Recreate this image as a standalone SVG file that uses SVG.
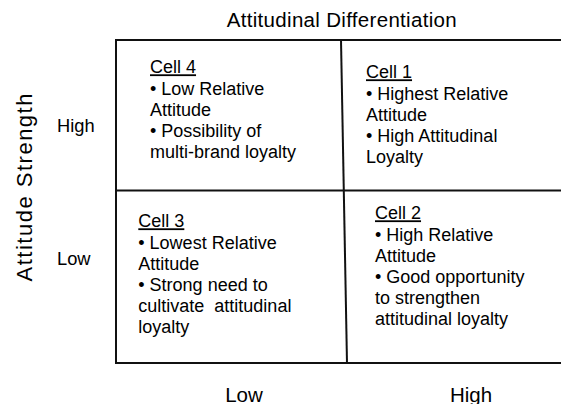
<svg xmlns="http://www.w3.org/2000/svg" width="561" height="404" viewBox="0 0 561 404">
<style>
text{font-family:"Liberation Sans",Arial,sans-serif;fill:#000}
.cell{font-size:18px}
.u{text-decoration:underline}
.ln{stroke:#111;stroke-width:2;fill:none}
.ax{font-size:20.5px}
.lv{font-size:18.3px}
</style>
<rect width="561" height="404" fill="#fff"/>
<g id="connectors">
<path class="ln" d="M562,40 H116 V363 H562"/>
<line class="ln" x1="116" y1="190.5" x2="562" y2="190.5"/>
<line class="ln" x1="341" y1="40" x2="347" y2="363"/>
</g>
<g id="title"><text class="ax" x="341.7" y="27" text-anchor="middle" textLength="230" lengthAdjust="spacing">Attitudinal Differentiation</text></g>
<g id="y-axis"><text x="0" y="0" font-size="22" text-anchor="middle" textLength="188" lengthAdjust="spacing" transform="translate(31.5,187.5) rotate(-90)">Attitude Strength</text></g>
<g id="y-high"><text class="lv" x="57" y="131.7">High</text></g>
<g id="y-low"><text class="lv" x="57" y="265">Low</text></g>
<g id="x-low"><text class="ax" x="244" y="401.5" text-anchor="middle" font-size="20.5">Low</text></g>
<g id="x-high"><text class="ax" x="471" y="401.5" text-anchor="middle" font-size="20.5">High</text></g>
<g id="cell4"><text class="cell" x="150" y="73.3"><tspan class="u">Cell 4</tspan><tspan x="150" dy="21.2">• Low Relative</tspan><tspan x="150" dy="21.2">Attitude</tspan><tspan x="150" dy="21.2">• Possibility of</tspan><tspan x="150" dy="21.2">multi-brand loyalty</tspan></text></g>
<g id="cell1"><text class="cell" x="366" y="78.3"><tspan class="u">Cell 1</tspan><tspan x="366" dy="21.2">• Highest Relative</tspan><tspan x="366" dy="21.2">Attitude</tspan><tspan x="366" dy="21.2">• High Attitudinal</tspan><tspan x="366" dy="21.2">Loyalty</tspan></text></g>
<g id="cell3"><text class="cell" x="138.3" y="227.3"><tspan class="u">Cell 3</tspan><tspan x="138.3" dy="21.2">• Lowest Relative</tspan><tspan x="138.3" dy="21.2">Attitude</tspan><tspan x="138.3" dy="21.2">• Strong need to</tspan><tspan x="138.3" dy="21.2" xml:space="preserve">cultivate  attitudinal</tspan><tspan x="138.3" dy="21.2">loyalty</tspan></text></g>
<g id="cell2"><text class="cell" x="375" y="219.3"><tspan class="u">Cell 2</tspan><tspan x="375" dy="21.2">• High Relative</tspan><tspan x="375" dy="21.2">Attitude</tspan><tspan x="375" dy="21.2">• Good opportunity</tspan><tspan x="375" dy="21.2">to strengthen</tspan><tspan x="375" dy="21.2">attitudinal loyalty</tspan></text></g>
</svg>
